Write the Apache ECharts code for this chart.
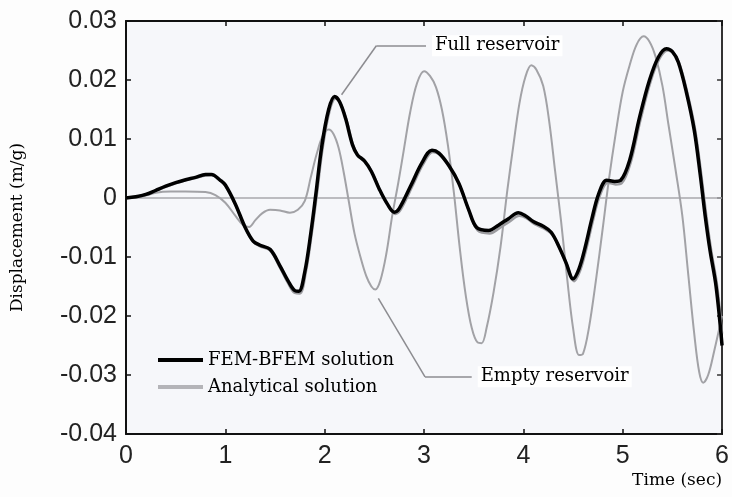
<!DOCTYPE html>
<html>
<head>
<meta charset="utf-8">
<script src="https://cdn.jsdelivr.net/npm/echarts@6/dist/echarts.min.js"></script>
<style>
  html, body { margin: 0; padding: 0; background: #fdfdfd; }
  #chart { width: 732px; height: 497px; }
</style>
</head>
<body>
<div id="chart"></div>
<script>
// Tick labels
const xTickLabels = ['0', '1', '2', '3', '4', '5', '6'];
const yTickLabels = ['-0.04', '-0.03', '-0.02', '-0.01', '0', '0.01', '0.02', '0.03'];

// Full reservoir, FEM-BFEM solution: [time (s), displacement (m/g)]
const fullFem = [
  [0.00, 0.0000], [0.10, 0.0002], [0.20, 0.0006], [0.30, 0.0013], [0.40, 0.0020],
  [0.50, 0.0026], [0.60, 0.0031], [0.70, 0.0035], [0.80, 0.0040], [0.86, 0.0040],
  [0.95, 0.0030], [1.00, 0.0022], [1.10, -0.0010], [1.20, -0.0050], [1.28, -0.0073],
  [1.35, -0.0080], [1.45, -0.0087], [1.55, -0.0115], [1.63, -0.0140], [1.70, -0.0157],
  [1.74, -0.0158], [1.80, -0.0125], [1.86, -0.0060], [1.91, 0.0005], [1.97, 0.0087],
  [2.04, 0.0150], [2.10, 0.0172], [2.15, 0.0163], [2.21, 0.0135], [2.28, 0.0090],
  [2.33, 0.0073], [2.40, 0.0063], [2.47, 0.0045], [2.55, 0.0015], [2.63, -0.0010],
  [2.70, -0.0024], [2.75, -0.0018], [2.87, 0.0022], [2.98, 0.0060], [3.08, 0.0081],
  [3.15, 0.0076], [3.25, 0.0055], [3.35, 0.0025], [3.45, -0.0020], [3.53, -0.0050],
  [3.65, -0.0055], [3.75, -0.0046], [3.85, -0.0035], [3.95, -0.0025], [4.02, -0.0030],
  [4.10, -0.0040], [4.20, -0.0048], [4.28, -0.0058], [4.36, -0.0083], [4.43, -0.0110],
  [4.50, -0.0137], [4.56, -0.0120], [4.62, -0.0085], [4.69, -0.0035], [4.76, 0.0008],
  [4.84, 0.0030], [4.92, 0.0028], [4.98, 0.0030], [5.07, 0.0064], [5.17, 0.0137],
  [5.27, 0.0200], [5.36, 0.0239], [5.44, 0.0253], [5.50, 0.0248], [5.56, 0.0230],
  [5.64, 0.0180], [5.72, 0.0115], [5.78, 0.0040], [5.83, -0.0030], [5.88, -0.0090],
  [5.94, -0.0150], [6.00, -0.0250]
];

// Full reservoir, analytical solution
const fullAnalytical = [
  [0.00, 0.0000], [0.10, 0.0002], [0.20, 0.0006], [0.30, 0.0012], [0.40, 0.0019],
  [0.50, 0.0025], [0.60, 0.0030], [0.70, 0.0034], [0.80, 0.0038], [0.86, 0.0039],
  [0.95, 0.0029], [1.00, 0.0021], [1.10, -0.0011], [1.20, -0.0051], [1.28, -0.0074],
  [1.35, -0.0082], [1.45, -0.0089], [1.55, -0.0118], [1.63, -0.0144], [1.70, -0.0161],
  [1.75, -0.0162], [1.81, -0.0126], [1.87, -0.0060], [1.92, 0.0004], [1.98, 0.0085],
  [2.05, 0.0148], [2.11, 0.0169], [2.16, 0.0160], [2.22, 0.0132], [2.29, 0.0088],
  [2.34, 0.0071], [2.41, 0.0061], [2.48, 0.0043], [2.56, 0.0012], [2.64, -0.0013],
  [2.71, -0.0027], [2.76, -0.0021], [2.88, 0.0019], [2.99, 0.0057], [3.09, 0.0078],
  [3.16, 0.0073], [3.26, 0.0051], [3.36, 0.0021], [3.46, -0.0025], [3.54, -0.0055],
  [3.66, -0.0060], [3.76, -0.0051], [3.86, -0.0040], [3.96, -0.0030], [4.03, -0.0034],
  [4.11, -0.0044], [4.21, -0.0052], [4.29, -0.0062], [4.37, -0.0087], [4.44, -0.0114],
  [4.51, -0.0141], [4.57, -0.0124], [4.63, -0.0089], [4.70, -0.0039], [4.77, 0.0004],
  [4.85, 0.0026], [4.93, 0.0023], [4.99, 0.0025], [5.08, 0.0060], [5.18, 0.0133],
  [5.28, 0.0197], [5.37, 0.0236], [5.45, 0.0250], [5.51, 0.0246], [5.57, 0.0228],
  [5.65, 0.0179], [5.73, 0.0115], [5.79, 0.0041], [5.84, -0.0028], [5.89, -0.0088],
  [5.95, -0.0148], [6.00, -0.0230]
];

// Empty reservoir response
const emptyReservoir = [
  [0.00, 0.0000], [0.15, 0.0002], [0.30, 0.0009], [0.45, 0.0011], [0.60, 0.0011],
  [0.80, 0.0010], [0.90, 0.0005], [1.00, -0.0008], [1.10, -0.0030], [1.18, -0.0046],
  [1.24, -0.0049], [1.30, -0.0038], [1.37, -0.0026], [1.45, -0.0020], [1.55, -0.0021],
  [1.65, -0.0025], [1.73, -0.0020], [1.80, -0.0005], [1.86, 0.0035], [1.92, 0.0075],
  [1.98, 0.0105], [2.04, 0.0116], [2.09, 0.0108], [2.14, 0.0085], [2.19, 0.0045],
  [2.24, -0.0003], [2.30, -0.0060], [2.36, -0.0100], [2.42, -0.0133], [2.47, -0.0150],
  [2.51, -0.0155], [2.56, -0.0140], [2.62, -0.0095], [2.68, -0.0030], [2.74, 0.0025],
  [2.80, 0.0085], [2.86, 0.0145], [2.93, 0.0195], [3.00, 0.0215], [3.06, 0.0207],
  [3.12, 0.0188], [3.18, 0.0150], [3.24, 0.0090], [3.30, 0.0010], [3.36, -0.0085],
  [3.42, -0.0165], [3.48, -0.0220], [3.54, -0.0245], [3.58, -0.0246], [3.63, -0.0220],
  [3.70, -0.0160], [3.77, -0.0083], [3.84, 0.0015], [3.90, 0.0090], [3.96, 0.0160],
  [4.02, 0.0205], [4.08, 0.0225], [4.13, 0.0218], [4.20, 0.0190], [4.26, 0.0130],
  [4.32, 0.0045], [4.38, -0.0040], [4.44, -0.0135], [4.50, -0.0220], [4.56, -0.0266],
  [4.60, -0.0264], [4.66, -0.0220], [4.73, -0.0140], [4.80, -0.0050], [4.86, 0.0030],
  [4.93, 0.0110], [5.00, 0.0180], [5.07, 0.0225], [5.14, 0.0260], [5.21, 0.0274],
  [5.27, 0.0265], [5.33, 0.0240], [5.40, 0.0190], [5.46, 0.0125], [5.53, 0.0050],
  [5.60, -0.0030], [5.66, -0.0130], [5.72, -0.0230], [5.77, -0.0295], [5.81, -0.0313],
  [5.86, -0.0300], [5.92, -0.0260], [6.00, -0.0200]
];

// Baseline at zero displacement
const baseline = [[0, 0], [6, 0]];

// Callout leader lines (data coordinates) and their captions
const fullCallout = [[2.17, 0.0175], [2.52, 0.0258], [3.02, 0.0258]];
const emptyCallout = [[2.54, -0.0170], [3.01, -0.0303], [3.48, -0.0303]];
const fullCaption = 'Full reservoir';
const emptyCaption = 'Empty reservoir';

const serif = 'DejaVu Serif';
const sans = 'Liberation Sans';

function segments(pts) {
  const out = [];
  for (let i = 0; i < pts.length - 1; i++) {
    out.push([{ coord: pts[i] }, { coord: pts[i + 1] }]);
  }
  return out;
}

const chart = echarts.init(document.getElementById('chart'), null, { renderer: 'canvas' });

const axisLineStyle = { color: '#111', width: 2 };

chart.setOption({
  backgroundColor: '#fdfdfd',
  animation: false,
  grid: {
    left: 126, right: 6, top: 21, bottom: 63,
    show: true, backgroundColor: '#f6f7fa', borderWidth: 0
  },
  legend: {
    data: [
      { name: 'FEM-BFEM solution', icon: 'rect', itemStyle: { color: '#000' } },
      { name: 'Analytical solution', icon: 'rect', itemStyle: { color: '#b4b4b8' } }
    ],
    orient: 'vertical',
    left: 153, top: 345,
    itemWidth: 45, itemHeight: 4, itemGap: 7,
    textStyle: { fontFamily: serif, fontSize: 18, color: '#000', lineHeight: 20 }
  },
  xAxis: [{
    type: 'value', min: 0, max: 6, interval: 1,
    name: 'Time (sec)', nameLocation: 'end', nameGap: 0,
    nameTextStyle: { fontFamily: serif, fontSize: 17, color: '#000', align: 'right', verticalAlign: 'top', padding: [38, 0, 0, 0] },
    axisLine: { show: true, onZero: false, lineStyle: axisLineStyle },
    axisTick: { show: true, inside: true, length: 5, lineStyle: { color: '#111', width: 1.5 } },
    axisLabel: {
      fontFamily: sans, fontSize: 25, color: '#222', margin: 10,
      formatter: v => xTickLabels[Math.round(v)]
    },
    splitLine: { show: false }
  }, {
    type: 'value', min: 0, max: 6, interval: 1, position: 'top',
    axisLine: { show: true, onZero: false, lineStyle: axisLineStyle },
    axisTick: { show: true, inside: true, length: 5, lineStyle: { color: '#111', width: 1.5 } },
    axisLabel: { show: false }, splitLine: { show: false }
  }],
  yAxis: [{
    type: 'value', min: -0.04, max: 0.03, interval: 0.01,
    name: 'Displacement (m/g)', nameLocation: 'middle', nameRotate: 90, nameGap: 100,
    nameTextStyle: { fontFamily: serif, fontSize: 17, color: '#000', padding: [0, 0, 0, 0] },
    axisLine: { show: true, onZero: false, lineStyle: axisLineStyle },
    axisTick: { show: true, inside: true, length: 5, lineStyle: { color: '#111', width: 1.5 } },
    axisLabel: {
      fontFamily: sans, fontSize: 25, color: '#222', margin: 9,
      formatter: v => yTickLabels[Math.round((v + 0.04) * 100)]
    },
    splitLine: { show: false }
  }, {
    type: 'value', min: -0.04, max: 0.03, interval: 0.01, position: 'right',
    axisLine: { show: true, onZero: false, lineStyle: { color: '#333', width: 2 } },
    axisTick: { show: true, inside: true, length: 5, lineStyle: { color: '#333', width: 1.5 } },
    axisLabel: { show: false }, splitLine: { show: false }
  }],
  series: [
    {
      name: 'Analytical solution',
      type: 'line', smooth: 0.35, symbol: 'none', silent: true,
      data: emptyReservoir,
      lineStyle: { color: '#a2a2a6', width: 2 },
      itemStyle: { color: '#a2a2a6' },
      z: 2
    },
    {
      name: 'baseline',
      type: 'line', symbol: 'none', silent: true,
      data: baseline,
      lineStyle: { color: '#a8a8ac', width: 1.5 },
      z: 1,
      markLine: {
        silent: true, symbol: ['none', 'none'],
        lineStyle: { color: '#8c8c90', width: 1.5, type: 'solid' },
        label: { show: false },
        data: segments(fullCallout).concat(segments(emptyCallout))
      },
      markPoint: {
        silent: true, symbol: 'circle', symbolSize: 0,
        label: {
          show: true, position: 'right', distance: 6,
          fontFamily: serif, fontSize: 18, color: '#000',
          backgroundColor: '#ffffff', padding: [2, 3, 1, 3]
        },
        data: [
          { coord: fullCallout[2], label: { formatter: fullCaption } },
          { coord: emptyCallout[2], label: { formatter: emptyCaption } }
        ]
      }
    },
    {
      name: 'Analytical solution',
      type: 'line', smooth: 0.35, symbol: 'none', silent: true,
      data: fullAnalytical,
      lineStyle: { color: '#9c9ca0', width: 2.5 },
      itemStyle: { color: '#9c9ca0' },
      z: 3
    },
    {
      name: 'FEM-BFEM solution',
      type: 'line', smooth: 0.35, symbol: 'none', silent: true,
      data: fullFem,
      lineStyle: { color: '#000', width: 3.5 },
      itemStyle: { color: '#000' },
      z: 4
    }
  ]
});
</script>
</body>
</html>
